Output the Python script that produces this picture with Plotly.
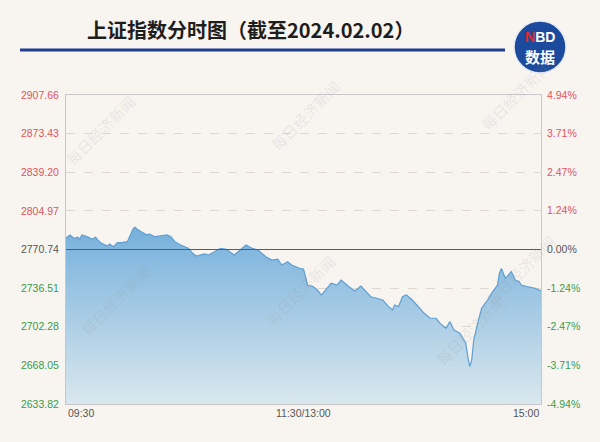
import plotly.graph_objects as go

# ---- data ----
minutes = [0, 1, 2, 4, 6, 7, 8, 11, 13, 15, 16, 18, 21, 22, 24, 26, 28, 31, 32, 34,
           35, 36, 38, 41, 42, 45, 47, 51, 53, 55, 58, 60, 62, 64, 66, 70, 72, 75, 78, 81,
           83, 85, 88, 91, 94, 97, 101, 104, 107, 109, 112, 114, 118, 120, 121, 122, 125, 127, 129, 132,
           134, 137, 139, 143, 146, 149, 151, 154, 157, 160, 163, 165, 166, 168, 170, 172, 175, 178, 181, 184,
           187, 189, 192, 194, 196, 199, 202, 203, 204, 205, 206, 208, 210, 213, 215, 218, 219, 220, 222, 225,
           227, 229, 230, 233, 237, 240]
index_values = [2780.9, 2782.1, 2783.6, 2780.7, 2781.6, 2779.8, 2783.6, 2782.1, 2779.8, 2781.6,
                2779.2, 2776.2, 2773.8, 2775.6, 2773.2, 2776.8, 2776.8, 2777.7, 2782.1, 2789.5,
                2790.4, 2788.6, 2786.5, 2783.6, 2784.5, 2782.1, 2782.7, 2783.6, 2782.1, 2777.7,
                2774.7, 2773.2, 2771.6, 2767.4, 2765.0, 2766.8, 2765.9, 2768.8, 2771.8, 2770.9,
                2768.5, 2765.9, 2770.3, 2774.7, 2771.8, 2770.3, 2764.4, 2761.4, 2762.1, 2757.0,
                2759.9, 2757.0, 2754.1, 2753.5, 2746.6, 2739.3, 2737.8, 2734.9, 2730.4, 2736.4,
                2740.8, 2739.3, 2743.7, 2737.8, 2734.0, 2738.4, 2734.9, 2728.9, 2727.5, 2726.0,
                2720.1, 2717.1, 2721.6, 2720.1, 2728.9, 2730.4, 2726.0, 2720.1, 2714.2, 2709.8,
                2709.8, 2705.3, 2700.9, 2706.8, 2699.4, 2696.5, 2687.6, 2675.7, 2666.9, 2672.8,
                2690.5, 2705.3, 2718.6, 2726.0, 2731.9, 2739.3, 2749.7, 2753.9, 2745.2, 2751.1,
                2743.7, 2742.2, 2739.3, 2737.8, 2736.4, 2734.0]

prev_close = 2770.74
left_ticks = [2633.82, 2668.05, 2702.28, 2736.51, 2770.74, 2804.97, 2839.20, 2873.43, 2907.66]
right_ticks = [-4.94, -3.71, -2.47, -1.24, 0.00, 1.24, 2.47, 3.71, 4.94]
x_tick_vals = [0, 120, 240]
x_tick_text = ["09:30", "11:30/13:00", "15:00"]
title_text = "上证指数分时图（截至2024.02.02）"

RED = "#e0535b"
GREEN = "#3a9a48"
GRAY = "#555555"


def tick_color(v, ref):
    if abs(v - ref) < 1e-9:
        return GRAY
    return RED if v > ref else GREEN


left_text = [f"<span style='color:{tick_color(v, prev_close)}'>{v:.2f}</span>" for v in left_ticks]
right_text = [f"<span style='color:{tick_color(v, 0)}'>{v:.2f}%</span>" for v in right_ticks]

# pixel helpers (plot area 66..541 x 95..404)
L, R, T, B = 66, 541, 95, 404


def px(x):
    return (x - L) / (R - L)


def py(y):
    return (B - y) / (B - T)


fig = go.Figure()
fig.add_trace(go.Scatter(
    x=minutes, y=index_values, mode="lines",
    line=dict(color="#5f9fd2", width=1.2),
    fill="tozeroy",
    fillgradient=dict(type="vertical",
                      colorscale=[[0, "#dae8ee"], [1, "#76b0dc"]],
                      start=left_ticks[0], stop=max(index_values)),
    showlegend=False, hoverinfo="x+y",
))
fig.add_trace(go.Scatter(x=[minutes[0]], y=[0], yaxis="y2", mode="markers",
                         marker=dict(opacity=0), showlegend=False, hoverinfo="skip"))

BG = "#f8f5f1"
fig.update_layout(
    width=600, height=442,
    margin=dict(l=L, r=600 - R, t=T, b=442 - B),
    paper_bgcolor=BG, plot_bgcolor=BG,
    font=dict(family="Liberation Sans", size=10.5, color=GRAY),
    xaxis=dict(range=[0, 240], showgrid=False, zeroline=False, showticklabels=False,
               showline=True, linecolor="#c8c8c8", linewidth=1, mirror=True, ticks=""),
    yaxis=dict(range=[left_ticks[0], left_ticks[-1]], tickvals=left_ticks, ticktext=left_text,
               showgrid=True, gridcolor="#ddd7d0", griddash="dash", gridwidth=1,
               zeroline=False, showline=True, linecolor="#c8c8c8", linewidth=1, mirror=True,
               ticks="", ticklabelstandoff=4),
    yaxis2=dict(range=[right_ticks[0], right_ticks[-1]], tickvals=right_ticks, ticktext=right_text,
                overlaying="y", side="right", showgrid=False, zeroline=False, ticks="",
                ticklabelstandoff=5),
)

shapes = [
    # previous-close line
    dict(type="line", xref="paper", yref="y", x0=0, x1=1, y0=prev_close, y1=prev_close,
         line=dict(color="#4f5e74", width=1), layer="above"),
    # title rule
    dict(type="line", xref="paper", yref="paper", x0=px(20), x1=px(505), y0=py(50), y1=py(50),
         line=dict(color="#1f3f91", width=3)),
    # logo circle
    dict(type="circle", xref="paper", yref="paper", x0=px(514), x1=px(566), y0=py(73), y1=py(21),
         fillcolor="#1c4a9c", line=dict(color="#e6ebf3", width=1.5)),
]
fig.update_layout(shapes=shapes)

ann = [
    dict(text=f"<b>{title_text}</b>", xref="paper", yref="paper", x=px(250), y=py(30),
         xanchor="center", yanchor="middle",
         showarrow=False, font=dict(family="Noto Sans CJK SC", size=20, color="#1e1e1e")),
    dict(text="<b><span style='color:#e8262d'>N</span>BD</b>", xref="paper", yref="paper",
         x=px(540), y=py(37), xanchor="center", yanchor="middle", showarrow=False,
         font=dict(family="Liberation Sans", size=14, color="white")),
    dict(text="<b>数据</b>", xref="paper", yref="paper", x=px(540), y=py(56),
         xanchor="center", yanchor="middle", showarrow=False,
         font=dict(family="Noto Sans CJK SC", size=15, color="white")),
]
anchors = ["left", "center", "right"]
for v, t, a in zip(x_tick_vals, x_tick_text, anchors):
    ann.append(dict(text=t, xref="x", yref="paper", x=v, y=py(404), yanchor="top", xanchor=a,
                    yshift=-1, showarrow=False, font=dict(size=10.5, color=GRAY)))

# watermarks
for (wx, wy) in [(100, 130), (305, 115), (515, 95), (115, 300), (300, 290), (470, 330), (520, 270)]:
    ann.append(dict(text="每日经济新闻", xref="paper", yref="paper", x=px(wx), y=py(wy),
                    xanchor="center", yanchor="middle",
                    showarrow=False, textangle=-45,
                    font=dict(family="Noto Sans CJK SC", size=15, color="rgba(150,150,150,0.18)")))
fig.update_layout(annotations=ann)

fig.write_html("out.html", config={"displayModeBar": False},
               post_script="document.body.style.margin='0';")
